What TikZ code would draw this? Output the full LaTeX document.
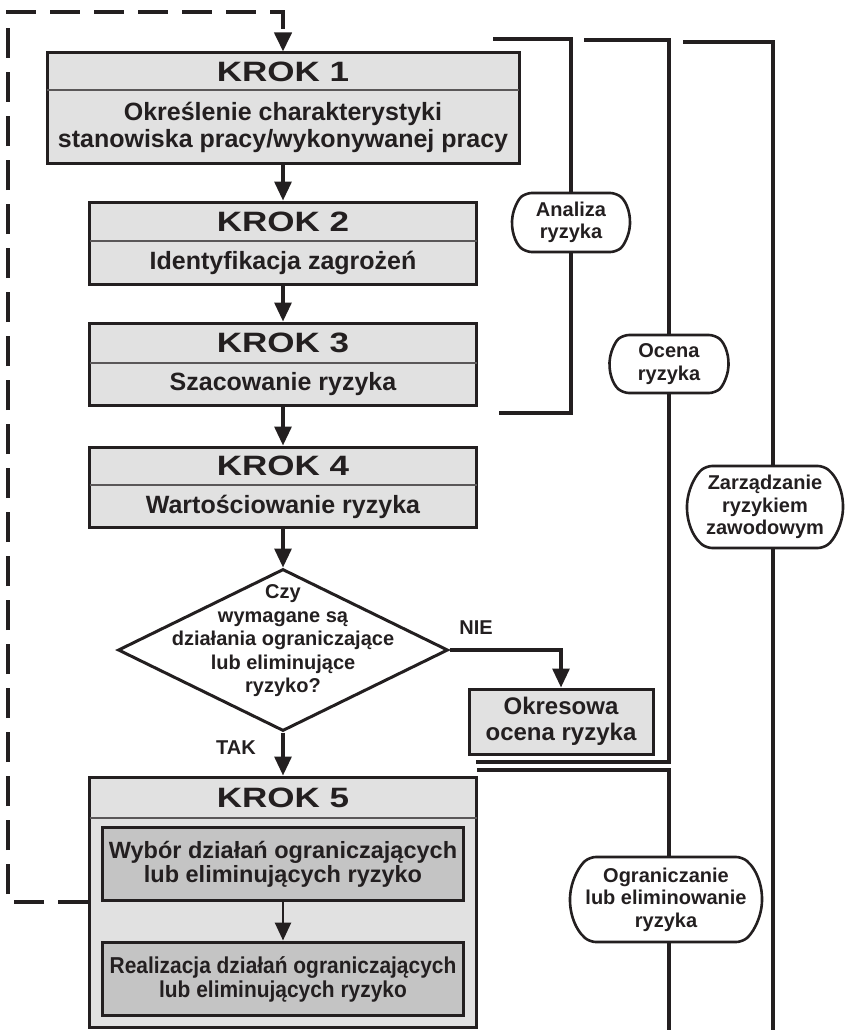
\documentclass[tikz,border=0pt]{standalone}
\usepackage{fontspec}
\setmainfont{Liberation Sans}
\newfontfamily\titlefont[FakeStretch=1.25]{Liberation Sans}
\newfontfamily\narrowfont[FakeStretch=0.91]{Liberation Sans}
\usetikzlibrary{arrows.meta,shapes.geometric,shapes.misc}
\definecolor{ink}{HTML}{231F20}
\definecolor{boxfill}{HTML}{E1E1E1}
\definecolor{innerfill}{HTML}{C4C4C4}
\tikzset{
  stepbox/.style={draw=ink, line width=3pt, fill=boxfill, inner sep=0pt},
  innerbox/.style={draw=ink, line width=3pt, fill=innerfill, inner sep=0pt},
  divider/.style={draw=ink!75, line width=1.2pt},
  titletext/.style={text=ink, font=\titlefont\bfseries\fontsize{28}{30}\selectfont, inner sep=0pt},
  bodytext/.style={text=ink, font=\bfseries\fontsize{25}{27}\selectfont, align=center, inner sep=0pt},
  flow/.style={draw=ink, line width=3.2pt, -{Triangle[length=19pt,width=17pt]}},
  smallflow/.style={draw=ink, line width=2.6pt, -{Triangle[length=18pt,width=16pt]}},
  bracket/.style={draw=ink, line width=3.2pt},
  loopline/.style={draw=ink, line width=4pt, dash pattern=on 30pt off 14pt, -{Triangle[length=19pt,width=17pt]}},
  phase/.style={draw=ink, line width=2.6pt, fill=white, rounded rectangle, rounded rectangle arc length=100,
    rounded corners=6pt, inner sep=0pt, align=center, text=ink, font=\bfseries\fontsize{20}{22.5}\selectfont},
  decision/.style={diamond, draw=ink, line width=3pt, fill=white, inner sep=0pt},
  label/.style={text=ink, font=\bfseries\fontsize{20}{22}\selectfont, inner sep=0pt}
}
\begin{document}
\begin{tikzpicture}[x=1pt,y=-1pt]
\useasboundingbox (0,0) rectangle (847,1030);

% steps
\node[stepbox, minimum width=472pt, minimum height=110pt] (k1) at (283,108) {};
\draw[divider] (47,90) -- (519,90);
\node[titletext] (k1t) at (283,71.5) {KROK 1};
\node[bodytext] (k1b) at (283,127) {Określenie charakterystyki\\stanowiska pracy/wykonywanej pracy};

\node[stepbox, minimum width=387pt, minimum height=82pt] (k2) at (283,243) {};
\draw[divider] (89.5,241) -- (476.5,241);
\node[titletext] (k2t) at (283,221.5) {KROK 2};
\node[bodytext] (k2b) at (283,263) {Identyfikacja zagrożeń};

\node[stepbox, minimum width=387pt, minimum height=82pt] (k3) at (283,364) {};
\draw[divider] (89.5,363) -- (476.5,363);
\node[titletext] (k3t) at (283,343) {KROK 3};
\node[bodytext] (k3b) at (283,384.5) {Szacowanie ryzyka};

\node[stepbox, minimum width=387pt, minimum height=80pt] (k4) at (283,487) {};
\draw[divider] (89.5,485) -- (476.5,485);
\node[titletext] (k4t) at (283,466) {KROK 4};
\node[bodytext] (k4b) at (283,506.5) {Wartościowanie ryzyka};

\node[decision, minimum width=330pt, minimum height=162pt] (d) at (283,650) {};
\node[text=ink, font=\bfseries\fontsize{20}{23.5}\selectfont, align=center, inner sep=0pt] (dt) at (283,641)
  {Czy\\wymagane są\\działania ograniczające\\lub eliminujące\\ryzyko?};

\node[stepbox, minimum width=184pt, minimum height=65pt] (ok) at (561,721.5) {};
\node[bodytext, font=\bfseries\fontsize{24}{26}\selectfont] (okt) at (561,721) {Okresowa\\ocena ryzyka};

\node[label] (nie) at (476,628) {NIE};
\node[label] (tak) at (236,748) {TAK};

\node[stepbox, minimum width=387pt, minimum height=250pt] (k5) at (283,902) {};
\draw[divider] (89.5,818) -- (476.5,818);
\node[titletext] (k5t) at (283,797.5) {KROK 5};
\node[innerbox, minimum width=361pt, minimum height=73pt] (i1) at (283,863.5) {};
\node[bodytext, font=\bfseries\fontsize{23.5}{24}\selectfont] (i1t) at (283,864) {Wybór działań ograniczających\\lub eliminujących ryzyko};
\node[innerbox, minimum width=361pt, minimum height=73pt] (i2) at (283,978.5) {};
\node[bodytext, font=\narrowfont\bfseries\fontsize{23}{24}\selectfont] (i2t) at (283,979) {Realizacja działań ograniczających\\lub eliminujących ryzyko};

% flow connectors
\draw[flow] (k1) -- (k2);
\draw[flow] (k2) -- (k3);
\draw[flow] (k3) -- (k4);
\draw[flow] (k4) -- (d);
\draw[flow] (d) -- (k5);
\draw[flow] (d.east) -| (ok.north);
\draw[smallflow] (i1.south) -- (i2.north);

% feedback loop
\coordinate (lpA) at (8,902);
\coordinate (lpB) at (8,12);
\coordinate (lpC) at (283,12);
\draw[loopline] (k5.west) -- (lpA) -- (lpB) -- (lpC) -- (k1.north);

% phase brackets
\node[phase, minimum width=118pt, minimum height=59pt] (an) at (571,222.5) {Analiza\\ryzyka};
\coordinate (anA) at (493,39); \coordinate (anB) at (571,39);
\coordinate (anC) at (571,413); \coordinate (anD) at (499,413);
\draw[bracket] (anA) -- (anB) -- (an.north);
\draw[bracket] (an.south) -- (anC) -- (anD);

\node[phase, minimum width=119pt, minimum height=58pt] (oc) at (669,364) {Ocena\\ryzyka};
\coordinate (ocA) at (584,40); \coordinate (ocB) at (669,40);
\coordinate (ocC) at (669,762); \coordinate (ocD) at (476,762);
\draw[bracket] (ocA) -- (ocB) -- (oc.north);
\draw[bracket] (oc.south) -- (ocC) -- (ocD);

\node[phase, minimum width=156pt, minimum height=82pt] (za) at (765,507) {Zarządzanie\\ryzykiem\\zawodowym};
\coordinate (zaA) at (683,42); \coordinate (zaB) at (773,42);
\coordinate (zaC) at (773,1030);
\draw[bracket] (zaA) -- (zaB) -- (za.north -| zaB);
\draw[bracket] (za.south -| zaB) -- (zaC);

\node[phase, minimum width=192pt, minimum height=85pt] (og) at (666,899.5) {Ograniczanie\\lub eliminowanie\\ryzyka};
\coordinate (ogA) at (477,770); \coordinate (ogB) at (669,770);
\coordinate (ogC) at (669,1030);
\draw[bracket] (ogA) -- (ogB) -- (og.north -| ogB);
\draw[bracket] (og.south -| ogB) -- (ogC);
\end{tikzpicture}
\end{document}
